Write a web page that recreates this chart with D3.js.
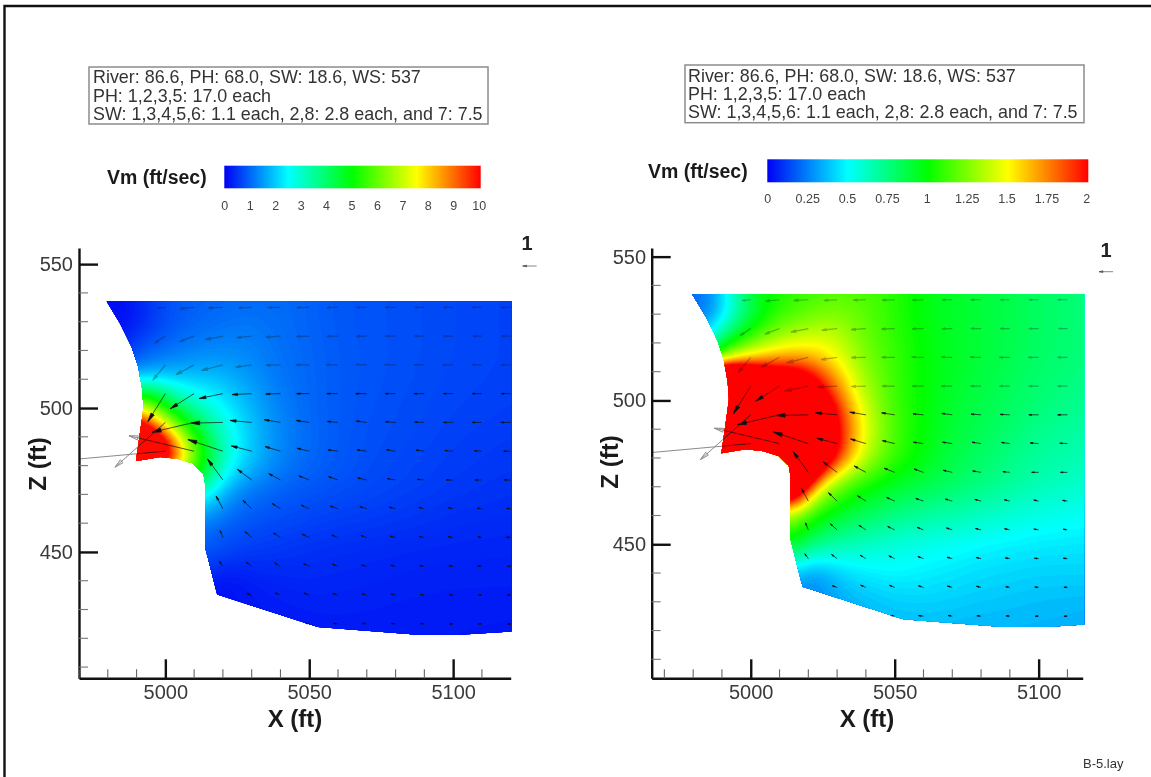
<!DOCTYPE html>
<html>
<head>
<meta charset="utf-8">
<script src="https://d3js.org/d3.v7.min.js"></script>
<style>
    html, body { margin: 0; padding: 0; background: #fff; }
    svg { display: block; filter: blur(0.4px); }
    text { font-family: "Liberation Sans", Arial, sans-serif; }
</style>
</head>
<body>
<div id="chart"></div>
<script>
// Vm grid (ft/sec), one row per gridZ, one column per gridX
const gridX = [4975, 4985, 4990, 4995, 5000, 5005, 5010, 5015, 5020, 5025, 5030, 5035, 5040, 5050, 5060, 5070, 5080, 5100, 5120];
const gridZ = [540, 530, 520, 515, 510, 505, 500, 495, 490, 485, 480, 475, 470, 465, 460, 450, 440, 430, 420];
const vm = [
    [.2, .25, .42, .7, .9, 1, 1.05, 1.08, 1.1, 1.12, 1.15, 1.15, 1.15, 1.08, .98, .93, .9, .82, .76],
    [.2, .25, .4, .65, .85, 1, 1.1, 1.15, 1.2, 1.25, 1.25, 1.22, 1.18, 1.08, .98, .93, .9, .82, .76],
    [.3, .5, .9, 1.05, 1.2, 1.3, 1.4, 1.45, 1.48, 1.48, 1.42, 1.32, 1.22, 1.1, 1, .94, .9, .82, .76],
    [.5, .9, 1.25, 1.45, 1.6, 1.66, 1.7, 1.7, 1.66, 1.58, 1.48, 1.36, 1.25, 1.11, 1, .94, .9, .81, .76],
    [1.5, 2, 2.3, 2.3, 2.15, 2.1, 2.1, 2.1, 2, 1.82, 1.62, 1.45, 1.28, 1.12, 1, .94, .89, .8, .75],
    [3, 4, 5, 4.8, 4, 3.2, 2.8, 2.55, 2.25, 2, 1.75, 1.5, 1.32, 1.12, 1, .93, .88, .79, .74],
    [7, 7.5, 7.5, 6.5, 5.2, 4.2, 3.5, 3, 2.6, 2.2, 1.9, 1.6, 1.38, 1.12, 1, .92, .87, .78, .72],
    [11, 11, 11, 9, 7.2, 5.6, 4.6, 3.7, 3, 2.45, 2, 1.7, 1.42, 1.13, 1, .91, .86, .76, .7],
    [14, 14, 14, 12, 9.5, 7.2, 5.6, 4.2, 3.2, 2.5, 2.05, 1.72, 1.45, 1.14, 1, .9, .85, .74, .68],
    [16, 16, 16, 14, 12, 8.5, 6.2, 4.7, 3.4, 2.6, 2.05, 1.72, 1.42, 1.13, .99, .89, .83, .72, .66],
    [12, 12, 12, 12, 10, 8, 6, 4.5, 3, 2.35, 1.95, 1.62, 1.35, 1.1, .97, .87, .81, .7, .64],
    [5, 5, 5, 5, 5, 5, 5, 3.8, 2.5, 1.9, 1.55, 1.35, 1.2, 1.02, .93, .85, .79, .68, .62],
    [2.8, 2.8, 2.8, 2.8, 2.8, 2.8, 2.8, 2.6, 1.85, 1.4, 1.22, 1.1, 1.02, .92, .86, .8, .75, .65, .59],
    [2, 2, 2, 2, 2, 2, 2, 2, 1.45, 1.2, 1.08, 1, .93, .84, .78, .74, .69, .6, .56],
    [1.3, 1.3, 1.3, 1.3, 1.3, 1.3, 1.3, 1.3, 1.1, 1, .92, .86, .82, .75, .7, .67, .63, .56, .52],
    [.95, .95, .95, .95, .95, .95, .95, .95, .8, .72, .68, .65, .63, .58, .55, .53, .5, .47, .46],
    [.4, .4, .4, .4, .4, .4, .4, .4, .3, .33, .4, .45, .47, .5, .48, .46, .44, .42, .42],
    [.25, .25, .25, .25, .25, .25, .25, .25, .25, .3, .33, .36, .38, .41, .42, .41, .4, .38, .37],
    [.3, .3, .3, .3, .3, .3, .3, .3, .3, .3, .33, .35, .36, .37, .37, .37, .36, .36, .35]
];

// outline of the flow section [x, z]
const wallX = [4979.6, 4984.3, 4988.3, 4990.6, 4992, 4992.4, 4991.8, 4989.8, 4998.2, 5004, 5009.7, 5013.2, 5013.8, 5013.8, 5018, 5053, 5087.7, 5102.3, 5120.5, 5120.5];
const wallZ = [537, 529.3, 521.2, 514.3, 506.2, 500.3, 495.7, 481.6, 483, 482.4, 480.7, 477.2, 473.7, 451.7, 435.2, 423.9, 421.2, 421.2, 422.4, 537];

// velocity vectors, tail at (vecX, vecZ), null = no vector
const vecX = [5000, 5010, 5020, 5030, 5040, 5050, 5060, 5070, 5080, 5090, 5100, 5110, 5120];
const vecZ = [535, 525, 515, 505, 495, 485, 475, 465, 455, 445, 435, 425];
const vecU = [
    [-.6, -1, -1.05, -.95, -.9, -.9, -.8, -.75, -.75, -.7, -.7, -.7, -.7],
    [-.75, -1.05, -1.25, -1.1, -1.05, -.95, -.8, -.75, -.75, -.7, -.7, -.65, -.65],
    [-.9, -1.3, -1.55, -1.15, -1.05, -.95, -.85, -.8, -.8, -.75, -.75, -.7, -.7],
    [-1.25, -1.7, -1.7, -1.4, -1.05, -.9, -.8, -.8, -.75, -.75, -.7, -.7, -.67],
    [-3.6, -3, -2.3, -1.55, -1.15, -.93, -.75, -.75, -.72, -.7, -.7, -.7, -.7],
    [-10, -4.65, -2.5, -1.45, -1.1, -.87, -.72, -.7, -.65, -.6, -.6, -.55, -.5],
    [null, null, -1.1, -1.02, -.83, -.74, -.67, -.65, -.6, -.5, -.5, -.5, -.45],
    [null, null, -.48, -.62, -.6, -.57, -.55, -.5, -.45, -.4, -.35, -.35, -.3],
    [null, null, -.2, -.48, -.5, -.5, -.45, -.42, -.4, -.38, -.35, -.3, -.3],
    [null, null, -.25, -.4, -.42, -.42, -.4, -.37, -.35, -.33, -.3, -.3, -.25],
    [null, null, null, -.35, -.38, -.38, -.37, -.35, -.33, -.3, -.28, -.25, -.25],
    [null, null, null, null, null, -.3, -.35, -.3, -.3, -.27, -.25, -.25, -.2]
];
const vecW = [
    [-.05, -.1, -.05, -.05, -.03, -.03, -.02, 0, 0, 0, 0, 0, 0],
    [-.5, -.4, -.25, -.12, -.08, -.04, -.02, -.02, 0, 0, 0, 0, 0],
    [-1.1, -.7, -.4, -.17, -.02, 0, .02, .02, .02, 0, 0, 0, 0],
    [-2, -1.07, -.35, -.07, -.03, 0, 0, 0, 0, 0, 0, 0, 0],
    [-3.2, -.7, -.05, .14, .19, .14, .07, .1, .05, .03, 0, 0, 0],
    [-.9, 1.1, .83, .38, .33, .21, .1, .1, .1, .08, .05, .03, 0],
    [null, null, 1.5, .76, .45, .29, .24, .15, .1, .05, 0, 0, 0],
    [null, null, .9, .6, .38, .26, .19, .15, .12, .1, .08, .05, .03],
    [null, null, .5, .43, .33, .24, .18, .14, .1, .08, .06, .05, .03],
    [null, null, .35, .3, .25, .2, .15, .1, .08, .05, .03, .03, 0],
    [null, null, null, .12, .16, .15, .12, .1, .08, .05, .03, .02, .02],
    [null, null, null, null, null, .05, .04, .05, .03, .02, 0, 0, 0]
];

const noteLines = [
    "River: 86.6, PH: 68.0, SW: 18.6, WS: 537",
    "PH: 1,2,3,5: 17.0 each",
    "SW: 1,3,4,5,6: 1.1 each, 2,8: 2.8 each, and 7: 7.5"
];
const barStops = ["#0000f4", "#00ffff", "#00ff00", "#ffff00", "#ff0000"];
const barTicksLeft = [0, 1, 2, 3, 4, 5, 6, 7, 8, 9, 10];
const barTicksRight = [0, 0.25, 0.5, 0.75, 1, 1.25, 1.5, 1.75, 2];
const xMajor = [5000, 5050, 5100];
const zMajor = [450, 500, 550];

const width = 1151, height = 777;
const arrowScale = 14; // px per ft/sec
const fadeY = 393; // everything above this line is washed out in the original

const panels = [
    {
        id: "a", xDomain: [4970, 5120], xRange: [79, 510.7], zDomain: [406.1, 555.6], zRange: [678.3, 248],
        maxVm: 10, floorVm: 0.1, levels: 220, barTicks: barTicksLeft, fieldMaxX: 5120.5,
        box: {x: 89, y: 67, w: 399, h: 57, tx: 93, lines: [83, 102, 120]},
        bar: {x: 224.3, y: 165.7, w: 256.4, h: 22.6, labelY: 205.7},
        vm: {x: 107, y: 184}, zTitle: {x: 46, y: 464}, zLabelX: 73,
        xTitle: 295, ref: {x: 527, y: 250, tail: 536.7, arrowY: 266}
    },
    {
        id: "b", xDomain: [4965.6, 5115.3], xRange: [651.7, 1082.7], zDomain: [403.4, 553], zRange: [678.3, 248],
        maxVm: 2, floorVm: 0, levels: 120, barTicks: barTicksRight, fieldMaxX: 5115.8,
        box: {x: 685, y: 65, w: 399, h: 57.7, tx: 688, lines: [82, 100, 118]},
        bar: {x: 767.3, y: 159.3, w: 321, h: 23, labelY: 199},
        vm: {x: 648, y: 178}, zTitle: {x: 618, y: 462}, zLabelX: 646,
        xTitle: 867, ref: {x: 1106, y: 256.5, tail: 1113, arrowY: 271.7}
    }
];

const svg = d3.select("#chart").append("svg")
    .attr("width", width)
    .attr("height", height);

// page frame, only top and left survive in the scan
svg.append("path")
    .attr("d", d3.line()([[4.5, height], [4.5, 6], [width, 6]]))
    .attr("fill", "none")
    .attr("stroke", "#111")
    .attr("stroke-width", 2.4);

// resample the grid on a regular mesh for d3.contours
const step = 0.5;
const meshX = d3.range(gridX[0], gridX[gridX.length - 1] + step, step);
const meshZ = d3.range(gridZ[0], gridZ[gridZ.length - 1] - step, -step);
const ix = d3.scaleLinear().domain(gridX).range(d3.range(gridX.length));
const iz = d3.scaleLinear().domain(gridZ).range(d3.range(gridZ.length));
const mesh = new Float64Array(meshX.length * meshZ.length);
meshZ.forEach((z, j) => {
    meshX.forEach((x, i) => {
        const fx = ix(x), fz = iz(z);
        const i0 = Math.min(Math.floor(fx), gridX.length - 2), j0 = Math.min(Math.floor(fz), gridZ.length - 2);
        const tx = fx - i0, tz = fz - j0;
        mesh[j * meshX.length + i] =
            vm[j0][i0] * (1 - tx) * (1 - tz) + vm[j0][i0 + 1] * tx * (1 - tz) +
            vm[j0 + 1][i0] * (1 - tx) * tz + vm[j0 + 1][i0 + 1] * tx * tz;
    });
});
d3.blur2({data: mesh, width: meshX.length, height: meshZ.length}, 6);

// arrows as one list, same vectors on both panels
const arrows = [];
vecZ.forEach((z, r) => {
    vecX.forEach((x, c) => {
        if (vecU[r][c] !== null) arrows.push({x: x, z: z, u: vecU[r][c], w: vecW[r][c]});
    });
});

function arrowPath(x0, y0, dx, dy) {
    const len = Math.hypot(dx, dy);
    const ang = Math.atan2(dy, dx);
    const hl = Math.min(9, Math.max(2.5, len * 0.28));
    const hw = hl * 0.22;
    const x1 = x0 + dx, y1 = y0 + dy;
    const bx = x1 - hl * Math.cos(ang), by = y1 - hl * Math.sin(ang);
    const p = d3.path();
    p.moveTo(x0, y0);
    p.lineTo(x1, y1);
    p.moveTo(x1, y1);
    p.lineTo(bx - hw * Math.sin(ang), by + hw * Math.cos(ang));
    p.lineTo(bx + hw * Math.sin(ang), by - hw * Math.cos(ang));
    p.closePath();
    return p.toString();
}

panels.forEach(function(pan) {
    const x = d3.scaleLinear().domain(pan.xDomain).range(pan.xRange);
    const z = d3.scaleLinear().domain(pan.zDomain).range(pan.zRange);
    const color = d3.scaleLinear()
        .domain(barStops.map((d, i) => pan.maxVm * i / (barStops.length - 1)))
        .range(barStops)
        .clamp(true);
    const fieldColor = v => color(v - pan.floorVm);
    const panelArrows = arrows.filter(d => d.x <= pan.xDomain[1]);

    const g = svg.append("g");
    const defs = svg.append("defs");

    // clip paths
    defs.append("clipPath").attr("id", "wall-" + pan.id)
        .append("path")
        .attr("d", d3.line().x(d => x(d[0])).y(d => z(d[1]))(d3.zip(wallX, wallZ).concat([[wallX[0], wallZ[0]]])));
    defs.append("clipPath").attr("id", "side-" + pan.id)
        .append("rect")
        .attr("x", pan.xRange[0]).attr("y", pan.zRange[1])
        .attr("width", x(pan.fieldMaxX) - pan.xRange[0]).attr("height", pan.zRange[0] - pan.zRange[1]);
    defs.append("clipPath").attr("id", "upper-" + pan.id)
        .append("rect").attr("x", 0).attr("y", 0).attr("width", width).attr("height", fadeY);
    defs.append("clipPath").attr("id", "lower-" + pan.id)
        .append("rect").attr("x", 0).attr("y", fadeY).attr("width", width).attr("height", height - fadeY);
    const frame = "plot-" + pan.id;
    defs.append("clipPath").attr("id", frame)
        .append("rect")
        .attr("x", pan.xRange[0]).attr("y", pan.zRange[1])
        .attr("width", pan.xRange[1] - pan.xRange[0]).attr("height", pan.zRange[0] - pan.zRange[1]);

    const vec = d => arrowPath(x(d.x), z(d.z), d.u * arrowScale, -d.w * arrowScale);

    // vectors poking out over the white part of the plot are grey
    g.append("g").attr("clip-path", `url(#${frame})`)
        .selectAll("path").data(panelArrows).enter().append("path")
        .attr("d", vec)
        .attr("fill", "none")
        .attr("stroke", "#8a8a8a")
        .attr("stroke-width", 1);

    // flood contours
    const levels = d3.range(1, pan.levels + 1).map(d => pan.maxVm * d / pan.levels);
    const contours = d3.contours()
        .size([meshX.length, meshZ.length])
        .smooth(true)
        .thresholds(levels)(Array.from(mesh));
    const proj = d3.geoTransform({
        point: function(a, b) {
            this.stream.point(x(gridX[0] + (a - 0.5) * step), z(gridZ[0] - (b - 0.5) * step));
        }
    });
    const field = g.append("g").attr("clip-path", `url(#side-${pan.id})`)
        .append("g").attr("clip-path", `url(#wall-${pan.id})`);
    field.append("rect")
        .attr("x", x(gridX[0])).attr("y", z(gridZ[0]))
        .attr("width", x(gridX[gridX.length - 1]) - x(gridX[0]))
        .attr("height", z(gridZ[gridZ.length - 1]) - z(gridZ[0]))
        .attr("fill", fieldColor(0));
    field.selectAll("path.flood")
        .data(contours)
        .enter().append("path")
        .attr("class", "flood")
        .attr("d", d3.geoPath(proj))
        .attr("fill", d => fieldColor(d.value));

    // black inside the wall, washed out above fadeY
    const inWall = g.append("g").attr("clip-path", `url(#side-${pan.id})`)
        .append("g").attr("clip-path", `url(#wall-${pan.id})`);
    inWall.append("g").attr("clip-path", `url(#lower-${pan.id})`)
        .selectAll("path").data(panelArrows).enter().append("path")
        .attr("d", vec)
        .attr("fill", "#111")
        .attr("stroke", "#111")
        .attr("stroke-width", 0.7);
    inWall.append("g").attr("clip-path", `url(#upper-${pan.id})`)
        .attr("opacity", 0.3)
        .selectAll("path").data(panelArrows).enter().append("path")
        .attr("d", vec)
        .attr("fill", "#111")
        .attr("stroke", "#111")
        .attr("stroke-width", 1.2);

    // axes
    const xAxis = g.append("g").attr("transform", `translate(0,${pan.zRange[0]})`);
    xAxis.call(d3.axisBottom(x).tickValues(xMajor).tickSizeInner(-19).tickSizeOuter(0).tickPadding(0).tickFormat(d3.format("d")));
    xAxis.selectAll(".tick text").attr("y", 14).attr("dy", "0.35em");
    const zAxis = g.append("g").attr("transform", `translate(${pan.xRange[0]},0)`);
    zAxis.call(d3.axisLeft(z).tickValues(zMajor).tickSizeInner(-19).tickSizeOuter(0).tickFormat(d3.format("d")));
    zAxis.selectAll(".tick text").attr("x", pan.zLabelX - pan.xRange[0]);

    [xAxis, zAxis].forEach(ax => {
        ax.select(".domain").attr("stroke", "#111").attr("stroke-width", 2.4);
        ax.selectAll(".tick line").attr("stroke", "#111").attr("stroke-width", 2.4);
        ax.selectAll(".tick text")
            .attr("fill", "#3a3a3a")
            .attr("font-family", '"Liberation Sans", Arial, sans-serif')
            .attr("font-size", 20);
    });

    // minor ticks every 10 ft
    const minorX = d3.range(Math.ceil(pan.xDomain[0] / 10) * 10, pan.xDomain[1], 10).filter(d => !xMajor.includes(d));
    const minorZ = d3.range(Math.ceil(pan.zDomain[0] / 10) * 10, pan.zDomain[1], 10).filter(d => !zMajor.includes(d));
    g.append("g").selectAll("line").data(minorX).enter().append("line")
        .attr("x1", d => x(d)).attr("x2", d => x(d))
        .attr("y1", pan.zRange[0]).attr("y2", pan.zRange[0] - 9)
        .attr("stroke", "#666").attr("stroke-width", 1.1);
    g.append("g").selectAll("line").data(minorZ).enter().append("line")
        .attr("x1", pan.xRange[0]).attr("x2", pan.xRange[0] + 9)
        .attr("y1", d => z(d)).attr("y2", d => z(d))
        .attr("stroke", "#777").attr("stroke-width", 1.1);

    // axis titles
    g.append("text")
        .attr("x", pan.xTitle).attr("y", 727)
        .attr("text-anchor", "middle")
        .attr("font-weight", "bold").attr("font-size", 24).attr("fill", "#1a1a1a")
        .text("X (ft)");
    g.append("text")
        .attr("transform", `translate(${pan.zTitle.x},${pan.zTitle.y}) rotate(-90)`)
        .attr("text-anchor", "middle")
        .attr("font-weight", "bold").attr("font-size", 24).attr("fill", "#1a1a1a")
        .text("Z (ft)");

    // note box
    g.append("rect")
        .attr("x", pan.box.x).attr("y", pan.box.y)
        .attr("width", pan.box.w).attr("height", pan.box.h)
        .attr("fill", "none").attr("stroke", "#8c8c8c").attr("stroke-width", 1.5);
    g.append("g").selectAll("text").data(noteLines).enter().append("text")
        .attr("x", pan.box.tx)
        .attr("y", (d, i) => pan.box.lines[i])
        .attr("font-size", 17.9).attr("fill", "#333")
        .text(d => d);

    // colour bar
    const gradId = "grad-" + pan.id;
    defs.append("linearGradient").attr("id", gradId)
        .selectAll("stop").data(barStops).enter().append("stop")
        .attr("offset", (d, i) => i / (barStops.length - 1))
        .attr("stop-color", d => d);
    g.append("rect")
        .attr("x", pan.bar.x).attr("y", pan.bar.y)
        .attr("width", pan.bar.w).attr("height", pan.bar.h)
        .attr("fill", `url(#${gradId})`);
    const barScale = d3.scaleLinear().domain([0, pan.maxVm]).range([pan.bar.x, pan.bar.x + pan.bar.w - 2]);
    const barAxis = g.append("g").attr("transform", `translate(0,${pan.bar.labelY})`)
        .call(d3.axisBottom(barScale).tickValues(pan.barTicks).tickSize(0).tickPadding(0).tickFormat(d => d));
    barAxis.select(".domain").remove();
    barAxis.selectAll("text")
        .attr("y", 0).attr("dy", "0.35em")
        .attr("font-family", '"Liberation Sans", Arial, sans-serif')
        .attr("font-size", 12.5).attr("fill", "#444");
    g.append("text")
        .attr("x", pan.vm.x).attr("y", pan.vm.y)
        .attr("font-weight", "bold").attr("font-size", 19.5).attr("fill", "#1a1a1a")
        .text("Vm (ft/sec)");

    // reference vector
    g.append("text")
        .attr("x", pan.ref.x).attr("y", pan.ref.y)
        .attr("text-anchor", "middle")
        .attr("font-weight", "bold").attr("font-size", 20).attr("fill", "#222")
        .text("1");
    g.append("path")
        .attr("d", arrowPath(pan.ref.tail, pan.ref.arrowY, -arrowScale, 0))
        .attr("fill", "#555").attr("stroke", "#555").attr("stroke-width", 0.7);
});

svg.append("text")
    .attr("x", 1083).attr("y", 768)
    .attr("font-size", 13).attr("fill", "#333")
    .text("B-5.lay");
</script>
</body>
</html>
